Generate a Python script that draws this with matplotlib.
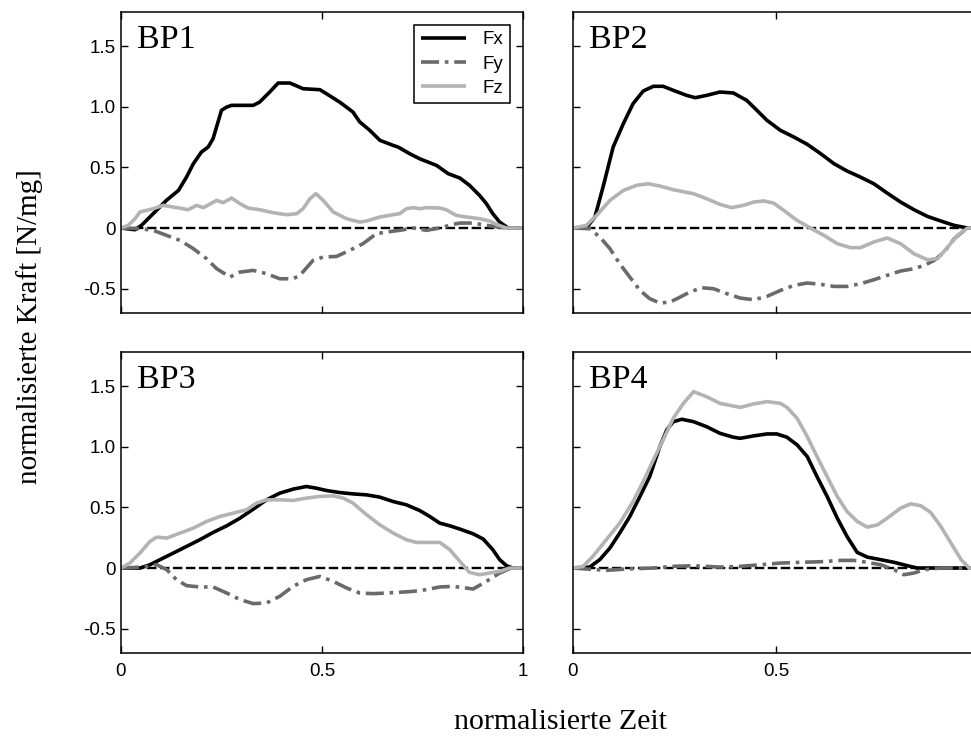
import matplotlib
matplotlib.use('Agg')
import matplotlib.pyplot as plt

# --- data (normalised time, normalised force) ---
panels = ['BP1', 'BP2', 'BP3', 'BP4']

bp1_t_fx = [0, 0.035, 0.051, 0.080, 0.113, 0.143, 0.163, 0.180, 0.200, 0.217, 0.229, 0.250,
            0.263, 0.275, 0.304, 0.329, 0.345, 0.370, 0.391, 0.420, 0.428, 0.453, 0.495,
            0.511, 0.544, 0.577, 0.594, 0.619, 0.644, 0.677, 0.689, 0.718, 0.743, 0.785,
            0.814, 0.843, 0.867, 0.892, 0.909, 0.925, 0.942, 0.963, 1.0]
bp1_fx = [0, -0.014, 0.022, 0.118, 0.228, 0.310, 0.420, 0.530, 0.626, 0.668, 0.736, 0.970,
          0.997, 1.011, 1.011, 1.011, 1.038, 1.121, 1.195, 1.195, 1.184, 1.148, 1.140,
          1.107, 1.038, 0.956, 0.874, 0.805, 0.723, 0.681, 0.668, 0.613, 0.571, 0.516,
          0.448, 0.412, 0.352, 0.269, 0.201, 0.118, 0.049, 0, 0]
bp1_t_fy = [0, 0.047, 0.080, 0.113, 0.147, 0.180, 0.213, 0.238, 0.271, 0.296, 0.329, 0.362,
            0.395, 0.428, 0.445, 0.478, 0.503, 0.536, 0.569, 0.602, 0.635, 0.660, 0.693,
            0.727, 0.760, 0.793, 0.826, 0.843, 0.876, 0.909, 0.942, 0.967, 1.0]
bp1_fy = [0, -0.005, -0.019, -0.060, -0.102, -0.170, -0.253, -0.335, -0.404, -0.363, -0.349,
          -0.376, -0.418, -0.418, -0.390, -0.266, -0.239, -0.234, -0.184, -0.129, -0.047,
          -0.033, -0.019, 0, -0.019, 0, 0.030, 0.041, 0.041, 0.022, 0.008, 0, 0]
bp1_t_fz = [0, 0.018, 0.035, 0.047, 0.064, 0.080, 0.105, 0.130, 0.155, 0.167, 0.188, 0.205,
            0.238, 0.254, 0.275, 0.296, 0.316, 0.345, 0.379, 0.412, 0.437, 0.453, 0.470,
            0.485, 0.503, 0.528, 0.561, 0.594, 0.611, 0.644, 0.677, 0.693, 0.710, 0.727,
            0.743, 0.760, 0.793, 0.809, 0.834, 0.859, 0.892, 0.917, 0.934, 0.959, 1.0]
bp1_fz = [0, 0.022, 0.077, 0.132, 0.146, 0.159, 0.187, 0.173, 0.159, 0.151, 0.187, 0.168,
          0.228, 0.209, 0.247, 0.201, 0.165, 0.151, 0.126, 0.110, 0.118, 0.159, 0.242,
          0.283, 0.228, 0.132, 0.077, 0.049, 0.058, 0.091, 0.110, 0.118, 0.159, 0.168,
          0.159, 0.168, 0.165, 0.151, 0.104, 0.091, 0.077, 0.058, 0.030, 0, 0]

bp2_t_fx = [0, 0.033, 0.054, 0.074, 0.099, 0.124, 0.148, 0.173, 0.198, 0.222, 0.247, 0.280,
            0.301, 0.329, 0.362, 0.395, 0.428, 0.453, 0.478, 0.511, 0.544, 0.577, 0.610,
            0.643, 0.675, 0.708, 0.741, 0.774, 0.807, 0.840, 0.873, 0.906, 0.939, 0.972, 1.0]
bp2_fx = [0, 0, 0.091, 0.338, 0.668, 0.860, 1.025, 1.129, 1.168, 1.168, 1.135, 1.093,
          1.074, 1.093, 1.121, 1.113, 1.052, 0.970, 0.887, 0.805, 0.750, 0.690, 0.613,
          0.530, 0.470, 0.420, 0.365, 0.288, 0.214, 0.151, 0.096, 0.058, 0.022, 0, 0]
bp2_t_fy = [0, 0.041, 0.066, 0.091, 0.115, 0.140, 0.165, 0.189, 0.214, 0.239, 0.264, 0.288,
            0.317, 0.346, 0.379, 0.412, 0.445, 0.478, 0.511, 0.544, 0.577, 0.610, 0.643,
            0.675, 0.708, 0.741, 0.774, 0.807, 0.840, 0.865, 0.890, 0.914, 0.939, 0.964,
            0.976, 1.0]
bp2_fy = [0, -0.005, -0.074, -0.170, -0.294, -0.404, -0.514, -0.582, -0.618, -0.610, -0.569,
          -0.527, -0.492, -0.500, -0.541, -0.577, -0.591, -0.563, -0.514, -0.473, -0.453,
          -0.464, -0.481, -0.481, -0.459, -0.426, -0.390, -0.354, -0.335, -0.308, -0.266,
          -0.198, -0.088, -0.019, 0, 0]
bp2_t_fz = [0, 0.033, 0.058, 0.091, 0.124, 0.157, 0.185, 0.214, 0.247, 0.297, 0.329, 0.362,
            0.391, 0.420, 0.445, 0.470, 0.494, 0.519, 0.552, 0.585, 0.618, 0.651, 0.684,
            0.708, 0.741, 0.774, 0.807, 0.840, 0.873, 0.898, 0.923, 0.947, 0.972, 1.0]
bp2_fz = [0, 0.022, 0.104, 0.228, 0.310, 0.352, 0.365, 0.346, 0.316, 0.283, 0.242, 0.195,
          0.168, 0.187, 0.214, 0.223, 0.206, 0.146, 0.063, 0, -0.060, -0.129, -0.162,
          -0.162, -0.115, -0.082, -0.129, -0.212, -0.261, -0.253, -0.157, -0.060, 0, 0]

bp3_t_fx = [0, 0.047, 0.072, 0.097, 0.130, 0.163, 0.196, 0.229, 0.263, 0.296, 0.329, 0.362,
            0.395, 0.428, 0.461, 0.486, 0.511, 0.544, 0.577, 0.611, 0.644, 0.677, 0.710,
            0.743, 0.768, 0.793, 0.818, 0.843, 0.876, 0.901, 0.925, 0.942, 0.959, 0.975, 1.0]
bp3_fx = [0, 0, 0.027, 0.069, 0.123, 0.178, 0.233, 0.293, 0.348, 0.411, 0.485, 0.562,
          0.617, 0.650, 0.672, 0.658, 0.639, 0.622, 0.611, 0.603, 0.584, 0.548, 0.521,
          0.474, 0.425, 0.370, 0.348, 0.321, 0.282, 0.239, 0.151, 0.069, 0.019, 0, 0]
bp3_t_fy = [0, 0.056, 0.089, 0.114, 0.138, 0.163, 0.196, 0.229, 0.263, 0.296, 0.329, 0.362,
            0.395, 0.428, 0.461, 0.495, 0.528, 0.561, 0.594, 0.627, 0.660, 0.693, 0.727,
            0.760, 0.793, 0.826, 0.859, 0.876, 0.909, 0.942, 0.971, 1.0]
bp3_fy = [0, 0.008, 0.027, -0.014, -0.096, -0.145, -0.156, -0.156, -0.206, -0.260, -0.293,
          -0.288, -0.233, -0.151, -0.096, -0.069, -0.110, -0.164, -0.206, -0.211, -0.206,
          -0.200, -0.192, -0.178, -0.156, -0.151, -0.165, -0.173, -0.110, -0.041, 0, 0]
bp3_t_fz = [0, 0.022, 0.047, 0.072, 0.089, 0.114, 0.147, 0.180, 0.213, 0.246, 0.279, 0.312,
            0.337, 0.362, 0.395, 0.428, 0.461, 0.494, 0.528, 0.553, 0.577, 0.611, 0.644,
            0.677, 0.710, 0.735, 0.760, 0.793, 0.818, 0.843, 0.867, 0.892, 0.917, 0.942,
            0.967, 1.0]
bp3_fz = [0, 0.041, 0.123, 0.219, 0.255, 0.247, 0.288, 0.329, 0.384, 0.425, 0.452, 0.480,
          0.535, 0.562, 0.562, 0.557, 0.576, 0.590, 0.595, 0.576, 0.535, 0.439, 0.356,
          0.288, 0.233, 0.211, 0.211, 0.211, 0.151, 0.055, -0.036, -0.055, -0.041, -0.027,
          0, 0]

bp4_t_fx = [0, 0.041, 0.066, 0.091, 0.115, 0.140, 0.165, 0.189, 0.214, 0.231, 0.247, 0.268,
            0.297, 0.329, 0.362, 0.395, 0.412, 0.445, 0.478, 0.502, 0.527, 0.552, 0.577,
            0.601, 0.626, 0.651, 0.675, 0.700, 0.725, 0.758, 0.791, 0.824, 0.848, 1.0]
bp4_fx = [0, 0.008, 0.069, 0.165, 0.288, 0.425, 0.590, 0.754, 1.001, 1.138, 1.206, 1.226,
          1.206, 1.165, 1.110, 1.078, 1.069, 1.089, 1.105, 1.105, 1.078, 1.015, 0.919,
          0.754, 0.590, 0.411, 0.260, 0.129, 0.090, 0.069, 0.047, 0.019, 0, 0]
bp4_t_fy = [0, 0.033, 0.082, 0.132, 0.198, 0.247, 0.297, 0.362, 0.412, 0.461, 0.511, 0.560,
            0.610, 0.659, 0.692, 0.725, 0.758, 0.791, 0.815, 0.840, 0.865, 0.906, 1.0]
bp4_fy = [0, -0.008, -0.019, -0.008, 0, 0.014, 0.019, 0.008, 0.014, 0.027, 0.041, 0.047,
          0.052, 0.063, 0.063, 0.047, 0.027, -0.014, -0.055, -0.041, -0.014, 0, 0]
bp4_t_fz = [0, 0.025, 0.049, 0.082, 0.115, 0.148, 0.173, 0.198, 0.222, 0.247, 0.272, 0.297,
            0.329, 0.362, 0.412, 0.445, 0.478, 0.511, 0.527, 0.552, 0.577, 0.601, 0.626,
            0.651, 0.675, 0.700, 0.725, 0.750, 0.774, 0.807, 0.832, 0.857, 0.881, 0.906,
            0.931, 0.956, 0.976, 1.0]
bp4_fz = [0, 0.014, 0.096, 0.233, 0.370, 0.548, 0.713, 0.891, 1.056, 1.234, 1.357, 1.453,
          1.412, 1.357, 1.324, 1.352, 1.371, 1.357, 1.324, 1.234, 1.083, 0.919, 0.754,
          0.590, 0.466, 0.384, 0.337, 0.356, 0.411, 0.494, 0.529, 0.513, 0.458, 0.343,
          0.206, 0.069, 0, 0]

series = {
    'BP1': [(bp1_t_fx, bp1_fx), (bp1_t_fy, bp1_fy), (bp1_t_fz, bp1_fz)],
    'BP2': [(bp2_t_fx, bp2_fx), (bp2_t_fy, bp2_fy), (bp2_t_fz, bp2_fz)],
    'BP3': [(bp3_t_fx, bp3_fx), (bp3_t_fy, bp3_fy), (bp3_t_fz, bp3_fz)],
    'BP4': [(bp4_t_fx, bp4_fx), (bp4_t_fy, bp4_fy), (bp4_t_fz, bp4_fz)],
}
labels = ['Fx', 'Fy', 'Fz']
y_ticks = [-0.5, 0, 0.5, 1.0, 1.5]
y_tick_labels = ['-0.5', '0', '0.5', '1.0', '1.5']
x_ticks = [0, 0.5, 1]
x_tick_labels = ['0', '0.5', '1']

# line styles: Fx, Fy, Fz
styles = [dict(color='black', lw=2.6, ls='-'),
          dict(color='#6a6a6a', lw=2.6, ls=(0, (5, 1.6, 1, 1.6))),
          dict(color='#b3b3b3', lw=2.6, ls='-')]

serif = ['Liberation Serif', 'DejaVu Serif']
sans = ['Liberation Sans', 'DejaVu Sans']


def main():
    fig = plt.figure(figsize=(9.71, 7.38), dpi=100)
    # axes rectangles in figure fraction (right column runs past the image edge)
    rects = [[0.1246, 0.5759, 0.4140, 0.4078],
             [0.5901, 0.5759, 0.4181, 0.4078],
             [0.1246, 0.1152, 0.4140, 0.4078],
             [0.5901, 0.1152, 0.4181, 0.4078]]

    for i, name in enumerate(panels):
        ax = fig.add_axes(rects[i])
        ax.axhline(0, color='black', lw=1.7, ls=(0, (4, 1.5)), zorder=1)
        handles = []
        for (t, v), st, lab in zip(series[name], styles, labels):
            h, = ax.plot(t, v, label=lab, zorder=2, solid_capstyle='butt', **st)
            handles.append(h)
        ax.set_xlim(0, 1)
        ax.set_ylim(-0.7, 1.78)
        ax.set_xticks(x_ticks)
        ax.set_yticks(y_ticks)
        ax.tick_params(direction='in', length=5, width=1, top=True, right=True,
                       labelsize=13.5, pad=4)
        ax.tick_params(axis='x', pad=7)
        if i in (0, 2):
            ax.set_yticklabels(y_tick_labels, family=sans)
        else:
            ax.set_yticklabels([])
        if i == 2:
            ax.set_xticklabels(x_tick_labels, family=sans)
        elif i == 3:
            # the "1" of this panel lies beyond the image edge
            ax.set_xticklabels(x_tick_labels[:2] + [''], family=sans)
        else:
            ax.set_xticklabels([])
        for sp in ax.spines.values():
            sp.set_linewidth(1.1)
        ax.text(0.04, 1.48, name, family=serif, fontsize=24.5, va='baseline')

        if i == 0:
            leg = ax.legend(handles=handles, loc='upper right', fancybox=False,
                            edgecolor='black', framealpha=1, borderaxespad=0.68,
                            handlelength=2.4, handletextpad=0.9, labelspacing=0.37,
                            borderpad=0.35, prop=dict(family=sans, size=13.5))
            leg.get_frame().set_linewidth(1.1)

    fig.text(560 / 971, 1 - 722 / 738, 'normalisierte Zeit', family=serif,
             fontsize=21.5, ha='center', va='center')
    fig.text(30 / 971, 1 - 327 / 738, 'normalisierte Kraft [N/mg]', family=serif,
             fontsize=21, ha='center', va='center', rotation=90)

    fig.savefig('out.png', dpi=100)


if __name__ == '__main__':
    main()
